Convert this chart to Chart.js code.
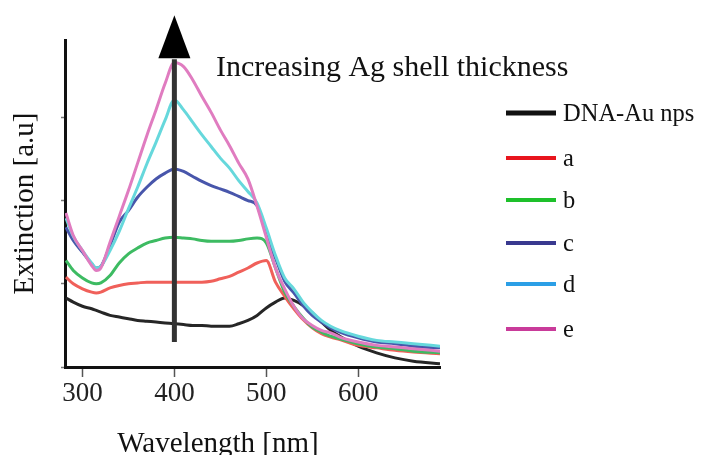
<!DOCTYPE html>
<html><head><meta charset="utf-8">
<script src="https://cdn.jsdelivr.net/npm/chart.js@4.4.1/dist/chart.umd.min.js"></script>
<style>html,body{margin:0;padding:0;background:#fff;overflow:hidden}canvas{display:block}</style>
</head><body>
<canvas id="c" width="721" height="455"></canvas>
<script>
// ---- data ----
const wavelengths = [282,290,300,310,315,320,330,340,350,360,370,380,390,400,410,420,430,440,450,460,470,480,490,500,510,520,530,540,550,560,570,580,600,620,640,660,689];
const seriesLabels = ['DNA-Au nps','a','b','c','d','e'];
const dnaAu = [0.83,0.78,0.73,0.70,0.68,0.66,0.62,0.60,0.58,0.56,0.55,0.54,0.53,0.52,0.51,0.50,0.50,0.49,0.49,0.49,0.52,0.56,0.62,0.71,0.78,0.83,0.80,0.74,0.65,0.54,0.44,0.37,0.25,0.17,0.11,0.07,0.04];
const seriesA = [1.08,1.00,0.94,0.90,0.89,0.90,0.95,0.98,1.00,1.01,1.02,1.02,1.02,1.02,1.02,1.02,1.02,1.03,1.06,1.09,1.14,1.19,1.25,1.28,1.02,0.85,0.70,0.57,0.47,0.40,0.36,0.33,0.26,0.23,0.20,0.18,0.16];
const seriesB = [1.28,1.16,1.07,1.01,1.00,1.01,1.10,1.25,1.36,1.43,1.49,1.52,1.55,1.56,1.55,1.54,1.52,1.51,1.51,1.51,1.52,1.54,1.55,1.49,1.19,0.90,0.73,0.59,0.48,0.42,0.37,0.34,0.28,0.24,0.22,0.19,0.17];
const seriesC = [1.68,1.52,1.38,1.24,1.19,1.21,1.46,1.74,1.88,2.04,2.16,2.26,2.33,2.38,2.35,2.29,2.23,2.18,2.14,2.10,2.05,2.00,1.94,1.60,1.31,1.03,0.89,0.74,0.62,0.54,0.47,0.42,0.35,0.30,0.28,0.25,0.23];
const seriesD = [1.79,1.57,1.40,1.25,1.19,1.21,1.40,1.63,1.90,2.16,2.44,2.70,2.97,3.21,3.09,2.94,2.79,2.65,2.51,2.39,2.24,2.11,1.97,1.67,1.34,1.07,0.94,0.78,0.66,0.56,0.49,0.44,0.37,0.32,0.30,0.28,0.25];
const seriesE = [1.85,1.58,1.40,1.22,1.16,1.19,1.50,1.81,2.12,2.45,2.78,3.09,3.41,3.66,3.61,3.45,3.25,3.06,2.85,2.66,2.45,2.26,1.93,1.56,1.19,0.94,0.73,0.58,0.50,0.44,0.41,0.36,0.30,0.26,0.24,0.22,0.19];
const xTicks = [300,400,500,600];
const yTicks = [0,1,2,3];
const xTitle = 'Wavelength [nm]';
const yTitle = 'Extinction [a.u]';
const annotationText = 'Increasing Ag shell thickness';
const arrowWavelength = 400;

// ---- styles ----
const FONT = "'Liberation Serif','Times New Roman',serif";
const lineColors = ['#262626','#f0605a','#3dbb62','#4856ab','#66d8dc','#e07cc0'];
const legendColors = ['#111111','#e8151d','#1ec02b','#39398f','#2b9fe6','#c93b9a'];
const allSeries = [dnaAu, seriesA, seriesB, seriesC, seriesD, seriesE];

const datasets = allSeries.map((s, i) => ({
  label: seriesLabels[i],
  data: wavelengths.map((w, j) => ({x: w, y: s[j]})),
  borderColor: lineColors[i],
  borderWidth: 3,
  pointRadius: 0,
  fill: false,
  cubicInterpolationMode: 'monotone',
  order: -i   // later series (e) drawn on top
}));

const overlay = {
  id: 'overlay',
  afterDraw(chart) {
    const ctx = chart.ctx;
    const xs = chart.scales.x, ys = chart.scales.y;
    ctx.save();
    // arrow
    const ax = xs.getPixelForValue(arrowWavelength);
    ctx.strokeStyle = '#333';
    ctx.lineWidth = 5;
    ctx.beginPath();
    ctx.moveTo(ax, ys.getPixelForValue(0.3));
    ctx.lineTo(ax, ys.getPixelForValue(3.7));
    ctx.stroke();
    const baseY = ys.getPixelForValue(3.71);
    ctx.fillStyle = '#000';
    ctx.beginPath();
    ctx.moveTo(ax - 16, baseY);
    ctx.lineTo(ax + 16, baseY);
    ctx.lineTo(ax, baseY - 43);
    ctx.closePath();
    ctx.fill();
    // annotation
    ctx.fillStyle = '#111';
    ctx.font = '30px ' + FONT;
    ctx.textAlign = 'left';
    ctx.textBaseline = 'alphabetic';
    ctx.fillText(annotationText, 216, 76);
    // x title
    ctx.font = '29px ' + FONT;
    ctx.textAlign = 'center';
    ctx.fillText(xTitle, 218, 452);
    // legend
    const rows = [113, 158, 200, 243, 284, 329];
    ctx.font = '24.5px ' + FONT;
    ctx.textAlign = 'left';
    seriesLabels.forEach((lab, i) => {
      ctx.strokeStyle = legendColors[i];
      ctx.lineWidth = i === 0 ? 5 : 4;
      ctx.beginPath();
      ctx.moveTo(506, rows[i]);
      ctx.lineTo(556, rows[i]);
      ctx.stroke();
      ctx.fillStyle = '#111';
      ctx.fillText(lab, 563, rows[i] + 8);
    });
    ctx.restore();
  }
};

new Chart(document.getElementById('c'), {
  type: 'line',
  data: { datasets },
  options: {
    responsive: false,
    animation: false,
    devicePixelRatio: 1,
    layout: { padding: { top: 40, right: 281, left: 0, bottom: 0 } },
    plugins: { legend: { display: false }, tooltip: { enabled: false } },
    scales: {
      x: {
        type: 'linear', min: 281, max: 689,
        afterFit(s) { s.height = 88; },
        afterBuildTicks(s) { s.ticks = xTicks.map(v => ({ value: v })); },
        ticks: { font: { family: FONT, size: 27 }, color: '#222', padding: 1, maxRotation: 0, autoSkip: false },
        grid: { drawOnChartArea: false, drawTicks: true, tickLength: 10, color: '#555', tickWidth: 1.5 },
        border: { display: true, color: '#111', width: 3 }
      },
      y: {
        min: 0, max: 3.93,
        afterFit(s) { s.width = 65; },
        afterBuildTicks(s) { s.ticks = yTicks.map(v => ({ value: v })); },
        ticks: { display: false },
        grid: { drawOnChartArea: false, drawTicks: true, tickLength: 4, color: '#777', tickWidth: 1.5 },
        border: { display: true, color: '#111', width: 3 },
        title: { display: true, text: yTitle, font: { family: FONT, size: 29 }, color: '#111', padding: { top: 8 } }
      }
    }
  },
  plugins: [overlay]
});
</script>
</body></html>
